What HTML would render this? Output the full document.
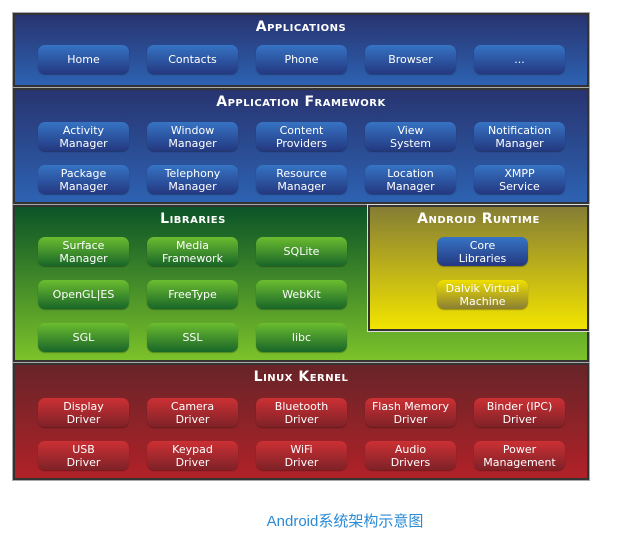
<!DOCTYPE html>
<html><head><meta charset="utf-8"><style>
*{margin:0;padding:0;box-sizing:border-box}
body{width:627px;height:541px;background:#fff;position:relative;overflow:hidden;font-family:"DejaVu Sans","Liberation Sans",sans-serif}
.p{position:absolute;left:13px;width:576px;border:2px solid #333;outline:1px solid #aaa}
.t{position:absolute;left:0;right:0;text-align:center;color:#fff;font-weight:bold;font-variant:small-caps;font-size:14px;letter-spacing:0.5px}
.b{position:absolute;width:91px;height:29px;border-radius:7px;color:#fff;font-size:11px;line-height:13px;display:flex;align-items:center;justify-content:center;text-align:center;box-shadow:0 1px 1px rgba(0,0,0,.3)}
.bl{background:linear-gradient(#3674c4,#243880)}
.gr{background:linear-gradient(#6cbc30,#186628)}
.rd{background:linear-gradient(#cc3034,#7e2228)}
.ye{background:linear-gradient(#f0e000,#8a7e34)}
</style></head><body>
<div class="p" style="top:13px;height:74px;background:linear-gradient(#283470,#2d62b2)"><div class="t" style="top:4px">Applications</div></div>
<div class="p" style="top:88px;height:116px;background:linear-gradient(#283470,#2d62b2)"><div class="t" style="top:4px">Application Framework</div></div>
<div class="p" style="top:205px;height:157px;background:linear-gradient(#0b5428,#7cc22a)"><div class="t" style="top:4px;width:356px">Libraries</div></div>
<div style="position:absolute;left:368px;top:205px;width:221px;height:126px;border:2px solid #333;outline:1px solid #ddd;background:linear-gradient(#857d35,#f2e400)"><div class="t" style="top:4px">Android Runtime</div></div>
<div class="p" style="top:363px;height:117px;background:linear-gradient(#672428,#b02228)"><div class="t" style="top:4px">Linux Kernel</div></div>

<div class="b bl" style="left:38px;top:45px">Home</div>
<div class="b bl" style="left:147px;top:45px">Contacts</div>
<div class="b bl" style="left:256px;top:45px">Phone</div>
<div class="b bl" style="left:365px;top:45px">Browser</div>
<div class="b bl" style="left:474px;top:45px">...</div>

<div class="b bl" style="left:38px;top:122px">Activity<br>Manager</div>
<div class="b bl" style="left:147px;top:122px">Window<br>Manager</div>
<div class="b bl" style="left:256px;top:122px">Content<br>Providers</div>
<div class="b bl" style="left:365px;top:122px">View<br>System</div>
<div class="b bl" style="left:474px;top:122px">Notification<br>Manager</div>
<div class="b bl" style="left:38px;top:165px">Package<br>Manager</div>
<div class="b bl" style="left:147px;top:165px">Telephony<br>Manager</div>
<div class="b bl" style="left:256px;top:165px">Resource<br>Manager</div>
<div class="b bl" style="left:365px;top:165px">Location<br>Manager</div>
<div class="b bl" style="left:474px;top:165px">XMPP<br>Service</div>

<div class="b gr" style="left:38px;top:237px">Surface<br>Manager</div>
<div class="b gr" style="left:147px;top:237px">Media<br>Framework</div>
<div class="b gr" style="left:256px;top:237px">SQLite</div>
<div class="b gr" style="left:38px;top:280px">OpenGL|ES</div>
<div class="b gr" style="left:147px;top:280px">FreeType</div>
<div class="b gr" style="left:256px;top:280px">WebKit</div>
<div class="b gr" style="left:38px;top:323px">SGL</div>
<div class="b gr" style="left:147px;top:323px">SSL</div>
<div class="b gr" style="left:256px;top:323px">libc</div>

<div class="b bl" style="left:437px;top:237px">Core<br>Libraries</div>
<div class="b ye" style="left:437px;top:280px">Dalvik Virtual<br>Machine</div>

<div class="b rd" style="left:38px;top:398px">Display<br>Driver</div>
<div class="b rd" style="left:147px;top:398px">Camera<br>Driver</div>
<div class="b rd" style="left:256px;top:398px">Bluetooth<br>Driver</div>
<div class="b rd" style="left:365px;top:398px">Flash Memory<br>Driver</div>
<div class="b rd" style="left:474px;top:398px">Binder (IPC)<br>Driver</div>
<div class="b rd" style="left:38px;top:441px">USB<br>Driver</div>
<div class="b rd" style="left:147px;top:441px">Keypad<br>Driver</div>
<div class="b rd" style="left:256px;top:441px">WiFi<br>Driver</div>
<div class="b rd" style="left:365px;top:441px">Audio<br>Drivers</div>
<div class="b rd" style="left:474px;top:441px">Power<br>Management</div>

<div style="position:absolute;left:0;width:690px;top:510px;text-align:center;color:#2a8ad4;font-size:15px;font-family:'Liberation Sans','Noto Sans CJK SC',sans-serif">Android系统架构示意图</div>
</body></html>
